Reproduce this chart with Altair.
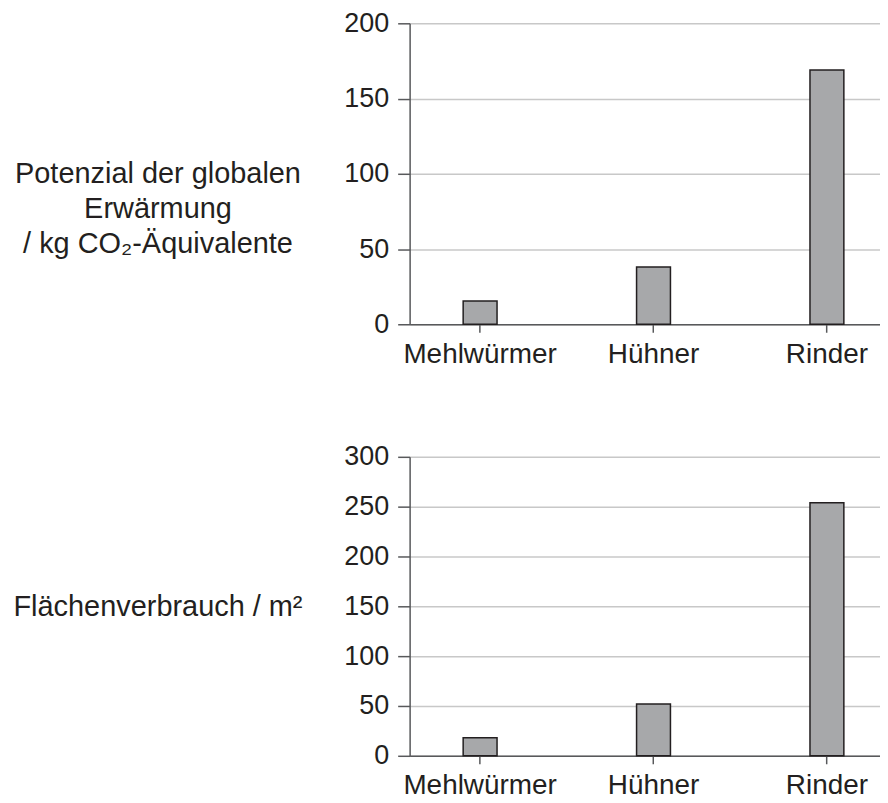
import altair as alt
import pandas as pd

categories = ["Mehlwürmer", "Hühner", "Rinder"]
gwp_values = [15.5, 38, 169]
area_values = [18, 52, 254]
gwp_ticks = [0, 50, 100, 150, 200]
area_ticks = [0, 50, 100, 150, 200, 250, 300]
gwp_title = ["Potenzial der globalen", "Erwärmung", "/ kg CO₂-Äquivalente"]
area_title = "Flächenverbrauch / m²"

FONT = "Liberation Sans"
TEXT = "#231f20"
AXIS = "#58595b"


def panel(values, ticks, ymax, title, height):
    df = pd.DataFrame({"Kategorie": categories, "Wert": values})
    return alt.Chart(df).mark_bar(
        fill="#a7a8aa", stroke=TEXT, strokeWidth=1.5
    ).encode(
        x=alt.X(
            "Kategorie:N",
            sort=categories,
            title=None,
            scale=alt.Scale(paddingInner=0.8046, paddingOuter=0.2586, align=0.597),
            axis=alt.Axis(
                labelAngle=0, labelFontSize=28, labelFont=FONT, labelColor=TEXT,
                tickSize=8, tickColor=AXIS, tickWidth=1.5,
                domainColor=AXIS, domainWidth=1.5, labelPadding=8,
            ),
        ),
        y=alt.Y(
            "Wert:Q",
            scale=alt.Scale(domain=[0, ymax], nice=False),
            axis=alt.Axis(
                values=ticks, grid=True, gridColor="#c8c8c8", gridWidth=1.5,
                tickSize=12, tickColor=AXIS, tickWidth=1.5,
                domainColor=AXIS, domainWidth=1.5,
                labelFontSize=27, labelFont=FONT, labelColor=TEXT, labelPadding=9,
                title=title, titleAngle=0, titleAlign="center", titleBaseline="middle",
                titleX=-253, titleY=height / 2, titleFontSize=29, titleFont=FONT,
                titleFontWeight="normal", titleColor=TEXT, titleLineHeight=35,
            ),
        ),
    ).properties(width=472, height=height)


top = panel(gwp_values, gwp_ticks, 200, gwp_title, 302)
bottom = panel(area_values, area_ticks, 300, area_title, 300)

chart = alt.vconcat(top, bottom, spacing=75).properties(
    padding={"top": 0, "left": 4, "right": 0, "bottom": 0},
    background="white",
).configure_view(stroke=None)

chart.save("out.html", embed_options={"renderer": "svg", "actions": False})
